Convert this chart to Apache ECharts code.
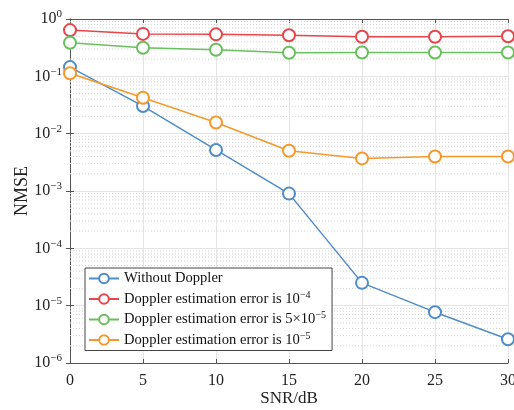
<!DOCTYPE html>
<html>
<head>
<meta charset="utf-8">
<script src="https://cdn.jsdelivr.net/npm/echarts@6/dist/echarts.min.js"></script>
<style>
  html, body { margin: 0; padding: 0; background: #fff; }
  #chart { width: 514px; height: 410px; }
</style>
</head>
<body>
<div id="chart"></div>
<script>
// SNR points (dB)
const snr = [0, 5, 10, 15, 20, 25, 30];

// NMSE
const noDoppler = [0.145, 0.0303, 0.0052, 0.00090, 0.0000250, 0.0000077, 0.0000026];
const err1e4 = [0.64, 0.55, 0.54, 0.52, 0.49, 0.49, 0.50];
const err5e5 = [0.386, 0.316, 0.29, 0.258, 0.26, 0.26, 0.26];
const err1e5 = [0.113, 0.0423, 0.0157, 0.00503, 0.00370, 0.0040, 0.0040];

const seriesNames = [
  'Without Doppler',
  'Doppler estimation error is 10^-4',
  'Doppler estimation error is 5x10^-5',
  'Doppler estimation error is 10^-5'
];
const legendLabels = {
  'Without Doppler': 'Without Doppler',
  'Doppler estimation error is 10^-4': 'Doppler estimation error is 10{e|\u22124}',
  'Doppler estimation error is 5x10^-5': 'Doppler estimation error is 5\u00d710{e|\u22125}',
  'Doppler estimation error is 10^-5': 'Doppler estimation error is 10{e|\u22125}'
};
const colors = ['#4f8cc9', '#e8454b', '#6abf5e', '#f7982b'];

const font = '"Liberation Serif", "Times New Roman", serif';

// dotted minor grid lines at 2..9 of every decade
const minorValues = [];
for (let p = -6; p < 0; p++) {
  for (let m = 2; m <= 9; m++) {
    minorValues.push(m * Math.pow(10, p));
  }
}

const pair = (ys) => snr.map((x, i) => [x, ys[i]]);

const chart = echarts.init(document.getElementById('chart'));

const logLabel = {
  fontFamily: font,
  color: '#222',
  margin: 8,
  formatter: (v) => {
    const e = Math.round(Math.log10(v));
    return '{b|10}{s|' + (e < 0 ? '\u2212' + (-e) : e) + '}';
  },
  rich: {
    b: { fontFamily: font, fontSize: 16, color: '#222' },
    s: { fontFamily: font, fontSize: 11, color: '#222', padding: [0, 0, 9, 0] }
  }
};

const baseSeries = (i, data) => ({
  name: seriesNames[i],
  type: 'line',
  data: pair(data),
  symbol: 'emptyCircle',
  symbolSize: 12,
  color: colors[i],
  lineStyle: { width: 1.5, color: colors[i] },
  itemStyle: { color: colors[i], borderWidth: 1.5 },
  emphasis: { disabled: true },
  z: 3
});

// minor grid as flat dotted lines across the whole x range
const gridSeries = minorValues.map((v) => ({
  type: 'line',
  data: [[0, v], [30, v]],
  symbol: 'none',
  silent: true,
  lineStyle: { color: '#d4d4d4', type: [1, 2], width: 1 },
  emphasis: { disabled: true },
  tooltip: { show: false },
  z: 1
}));

chart.setOption({
  animation: false,
  grid: { left: 70, right: 6, top: 19, bottom: 47, outerBoundsMode: 'none', containLabel: false },
  legend: {
    orient: 'vertical',
    left: 85,
    top: 268,
    data: seriesNames,
    backgroundColor: '#fff',
    borderColor: '#444',
    borderWidth: 1,
    borderRadius: 0,
    padding: [3, 6, 3, 3],
    itemGap: 4,
    itemWidth: 30,
    itemHeight: 12,
    formatter: (name) => legendLabels[name],
    textStyle: {
      fontFamily: font,
      fontSize: 14.6,
      color: '#111',
      rich: {
        e: { fontFamily: font, fontSize: 10, color: '#111', padding: [0, 0, 8, 0] }
      }
    }
  },
  xAxis: [
    {
      type: 'value',
      min: 0,
      max: 30,
      interval: 5,
      name: 'SNR/dB',
      nameLocation: 'middle',
      nameGap: 27,
      nameMoveOverlap: false,
      nameTextStyle: { fontFamily: font, fontSize: 17, color: '#222' },
      axisLine: { lineStyle: { color: '#555', width: 1 } },
      axisTick: { inside: true, length: 4, lineStyle: { color: '#555' } },
      axisLabel: { fontFamily: font, fontSize: 16, color: '#222', margin: 10 },
      splitLine: { show: true, lineStyle: { color: '#e4e4e4', width: 1 } }
    },
    {
      type: 'value',
      position: 'top',
      min: 0,
      max: 30,
      interval: 5,
      axisLine: { lineStyle: { color: '#555', width: 1 } },
      axisTick: { inside: true, length: 4, lineStyle: { color: '#555' } },
      axisLabel: { show: false },
      splitLine: { show: false }
    }
  ],
  yAxis: [
    {
      type: 'log',
      logBase: 10,
      min: 1e-6,
      max: 1,
      name: 'NMSE',
      nameLocation: 'middle',
      nameGap: 39,
      nameMoveOverlap: false,
      nameTextStyle: { fontFamily: font, fontSize: 18, color: '#222' },
      axisLine: { show: true, lineStyle: { color: '#555', width: 1 } },
      axisTick: { inside: true, length: 4, lineStyle: { color: '#555' } },
      axisLabel: logLabel,
      splitLine: { show: true, lineStyle: { color: '#e4e4e4', width: 1 } }
    },
    {
      type: 'log',
      logBase: 10,
      min: 1e-6,
      max: 1,
      position: 'right',
      axisLine: { show: true, lineStyle: { color: '#555', width: 1 } },
      axisTick: { inside: true, length: 4, lineStyle: { color: '#555' } },
      axisLabel: { show: false },
      splitLine: { show: false }
    }
  ],
  series: gridSeries.concat([
    baseSeries(0, noDoppler),
    baseSeries(1, err1e4),
    baseSeries(2, err5e5),
    baseSeries(3, err1e5)
  ])
});
</script>
</body>
</html>
